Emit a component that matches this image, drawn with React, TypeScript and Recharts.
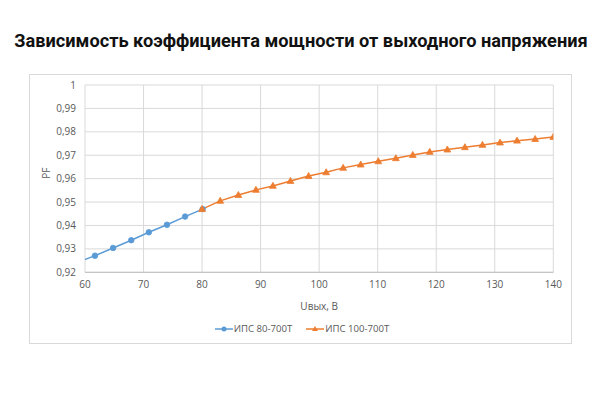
import React from "react";
import { LineChart, Line, XAxis, YAxis, CartesianGrid } from "recharts";

// Uвых, В
const ips80U = [58.6, 61.7, 64.8, 67.9, 70.9, 74.0, 77.1, 80.1];
const ips80PF = [0.9241, 0.9271, 0.9304, 0.9337, 0.9371, 0.9403, 0.9438, 0.947];

const ips100U = [
  80, 83.1, 86.2, 89.2, 92.1, 95.1, 98.2, 101.2, 104.1, 107.1, 110.1,
  113.1, 116, 118.9, 121.9, 124.9, 127.9, 130.9, 133.8, 136.9, 140,
];
const ips100PF = [
  0.947, 0.9505, 0.953, 0.9552, 0.9569, 0.959, 0.9611, 0.9627, 0.9646,
  0.966, 0.9674, 0.9687, 0.9701, 0.9714, 0.9724, 0.9734, 0.9744, 0.9754,
  0.9762, 0.9769, 0.9778,
];

const xTicks = [60, 70, 80, 90, 100, 110, 120, 130, 140];
const yTicks = [0.92, 0.93, 0.94, 0.95, 0.96, 0.97, 0.98, 0.99, 1];

const TITLE = "Зависимость коэффициента мощности от выходного напряжения";
const SERIES = [
  { id: "ips80", label: "ИПС 80-700Т", cor: "#5B9BD5" },
  { id: "ips100", label: "ИПС 100-700Т", cor: "#ED7D31" },
];

const dados80 = ips80U.map((u, i) => ({ u, pf: ips80PF[i] }));
const dados100 = ips100U.map((u, i) => ({ u, pf: ips100PF[i] }));

const fmtY = (v: number) => (v === 1 ? "1" : v.toFixed(2).replace(".", ","));

const tickStyle = { fill: "#595959", fontSize: 10, fontFamily: "Open Sans" };

function Triangulo(props: any) {
  const { cx, cy, key } = props;
  if (cx == null || cy == null) return <g key={key} />;
  return (
    <polygon
      key={key}
      points={`${cx},${cy - 3.6} ${cx - 3.4},${cy + 2.4} ${cx + 3.4},${cy + 2.4}`}
      fill="#ED7D31"
      stroke="#ED7D31"
      strokeWidth={0.8}
    />
  );
}

function LegendaItem({ label, cor, tri }: { label: string; cor: string; tri: boolean }) {
  return (
    <span style={{ display: "inline-flex", alignItems: "center", marginRight: 14 }}>
      <svg width={18} height={8} style={{ marginRight: 1 }}>
        <line x1={0} y1={4} x2={18} y2={4} stroke={cor} strokeWidth={1.5} />
        {tri ? (
          <polygon points="9,1 6,6 12,6" fill={cor} />
        ) : (
          <circle cx={9} cy={4} r={2.5} fill={cor} />
        )}
      </svg>
      {label}
    </span>
  );
}

export default function App() {
  return (
    <div style={{ position: "absolute", left: 0, top: 0, width: 600, height: 400, background: "#fff" }}>
      {/* titulo */}
      <div
        style={{
          position: "absolute",
          top: 30,
          left: 0,
          width: 602,
          textAlign: "center",
          fontFamily: "Roboto",
          fontWeight: 700,
          fontSize: 18.2,
          color: "#111",
          whiteSpace: "nowrap",
        }}
      >
        {TITLE}
      </div>

      {/* moldura */}
      <div
        style={{
          position: "absolute",
          left: 29,
          top: 74,
          width: 541,
          height: 268,
          border: "1px solid #d9d9d9",
        }}
      />

      <div style={{ position: "absolute", left: 0, top: 0 }}>
        <LineChart
          width={600}
          height={400}
          margin={{ top: 85, right: 46.7, bottom: 87.7, left: 35 }}
        >
          <CartesianGrid stroke="#d9d9d9" strokeWidth={1} />
          <XAxis
            dataKey="u"
            type="number"
            domain={[60, 140]}
            ticks={xTicks}
            allowDataOverflow
            height={40}
            tickSize={0}
            tickMargin={9}
            tick={tickStyle}
            axisLine={{ stroke: "#bfbfbf" }}
            label={{
              value: "Uвых, В",
              position: "insideBottom",
              offset: 2,
              fill: "#595959",
              fontSize: 10,
              fontFamily: "Open Sans",
            }}
          />
          <YAxis
            type="number"
            domain={[0.92, 1]}
            ticks={yTicks}
            width={50}
            tickSize={0}
            tickMargin={9}
            tick={tickStyle}
            tickFormatter={fmtY}
            axisLine={false}
            label={{
              value: "PF",
              angle: -90,
              position: "insideLeft",
              offset: 11,
              fill: "#595959",
              fontSize: 10,
              fontFamily: "Open Sans",
            }}
          />
          <Line
            data={dados80}
            dataKey="pf"
            name={SERIES[0].label}
            type="linear"
            stroke={SERIES[0].cor}
            strokeWidth={1.5}
            dot={{ r: 2.8, fill: SERIES[0].cor, stroke: SERIES[0].cor, strokeWidth: 0.8 }}
            isAnimationActive={false}
          />
          <Line
            data={dados100}
            dataKey="pf"
            name={SERIES[1].label}
            type="linear"
            stroke={SERIES[1].cor}
            strokeWidth={1.5}
            dot={<Triangulo />}
            isAnimationActive={false}
          />
        </LineChart>
      </div>

      {/* legenda */}
      <div
        style={{
          position: "absolute",
          top: 322,
          left: 0,
          width: 600,
          display: "flex",
          justifyContent: "center",
          fontFamily: "Open Sans",
          fontSize: 9.6,
          color: "#595959",
          paddingLeft: 18,
          boxSizing: "border-box",
        }}
      >
        <LegendaItem label={SERIES[0].label} cor={SERIES[0].cor} tri={false} />
        <LegendaItem label={SERIES[1].label} cor={SERIES[1].cor} tri={true} />
      </div>
    </div>
  );
}
